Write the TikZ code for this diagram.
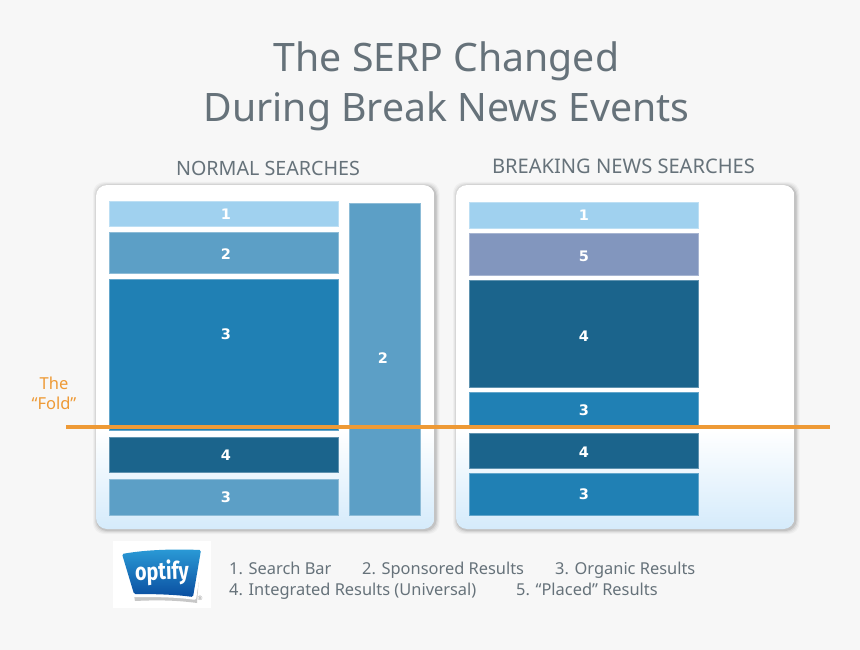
\documentclass[tikz,border=0pt]{standalone}
\usepackage{fontspec}
\setmainfont{Noto Sans}
\newfontfamily\numfont{DejaVu Sans}
\newfontfamily\logofont{Fira Sans}
\usetikzlibrary{calc}
\definecolor{bgc}{HTML}{F7F7F7}
\definecolor{txtc}{HTML}{66727A}
\definecolor{cA}{HTML}{A0D1EF}
\definecolor{cB}{HTML}{5C9FC6}
\definecolor{cC}{HTML}{2080B4}
\definecolor{cD}{HTML}{1B648C}
\definecolor{cE}{HTML}{8296BE}
\definecolor{foldc}{HTML}{EE9A36}
\definecolor{panelb}{HTML}{D5EBFB}
\definecolor{logot}{HTML}{2A9AD6}
\definecolor{logob}{HTML}{0A4EA0}
\tikzset{
  x=1pt,y=-1pt,
  blk/.style={draw=#1!70!white,line width=.5pt,fill=#1,inner sep=0pt},
  num/.style={text=white,inner sep=0pt,font=\fontsize{14.5}{15}\numfont\bfseries},
  head/.style={text=txtc,font=\fontsize{19.7}{22}\selectfont,inner sep=0pt},
  legend/.style={text=txtc,font=\fontsize{16.4}{20}\selectfont,inner sep=0pt,anchor=base west},
}
\newcommand{\panelbox}[2]{% x1,x2
  \foreach \s/\o in {4/.03,3/.04,2/.06,1/.09}{
    \fill[black,opacity=\o,rounded corners=11pt] (#1-\s+1,185-\s+1) rectangle (#2+\s+1,529+\s+1);}
  \begin{scope}
    \clip[rounded corners=11pt] (#1,185) rectangle (#2,529);
    \fill[white] (#1,185) rectangle (#2,431);
    \shade[top color=white,bottom color=panelb] (#1,430) rectangle (#2,529);
  \end{scope}}
\newcommand{\block}[9]{% name,color,x1,y1,x2,y2,label,tx,ty
  \node[blk=#2,minimum width=#5-#3-1,minimum height=#6-#4-1] (#1) at ({(#3+#5)/2-.25},{(#4+#6)/2-.25}) {};
  \node[num] (#1t) at (#8,#9) {#7};}
\begin{document}
\begin{tikzpicture}
\useasboundingbox (0,0) rectangle (860,650);
\fill[bgc] (0,0) rectangle (860,650);
\node[text=txtc,font=\fontsize{39.2}{50}\selectfont,align=center,inner sep=0pt] (title) at (446.5,86) {The SERP Changed\\During Break News Events};
\node[head] (hl) at (268,168.5) {NORMAL SEARCHES};
\node[head,font=\fontsize{20.1}{22}\selectfont] (hr) at (623.5,166.5) {BREAKING NEWS SEARCHES};
\panelbox{96}{434.5}
\panelbox{456}{794.5}
% left
\block{la}{cA}{109}{201}{339}{227}{1}{226}{214.5}
\block{lb}{cB}{109}{232}{339}{274}{2}{226}{254.5}
\block{lc}{cC}{109}{279}{339}{431}{3}{226}{334.5}
\block{ld}{cD}{109}{437}{339}{473}{4}{226}{455.5}
\block{le}{cB}{109}{479}{339}{516}{3}{226}{497.5}
\block{lf}{cB}{349}{203}{421}{516}{2}{383}{358.5}
% right
\block{ra}{cA}{469}{202}{699}{229}{1}{584}{215.5}
\block{rb}{cE}{469}{233}{699}{276}{5}{584}{256.5}
\block{rc}{cD}{469}{280}{699}{388}{4}{584}{336.5}
\block{rd}{cC}{469}{392}{699}{428}{3}{584}{410.5}
\block{re}{cD}{469}{433}{699}{469}{4}{584}{452.5}
\block{rf}{cC}{469}{473}{699}{516}{3}{584}{494.5}
% fold
\coordinate (fa) at (66,427);
\coordinate (fb) at (830,427);
\draw[foldc,line width=3.5pt] (fa) -- (fb);
\node[text=foldc,font=\fontsize{16.5}{20}\selectfont,align=center,inner sep=0pt] (fold) at (54,393) {The\\“Fold”};
% logo
\fill[white] (113,541) rectangle (211,608);
\fill[black!22] (127,556) -- (201,552) -- (197,603) .. controls (175,600) and (155,600) .. (135,601) -- cycle;
\fill[white,rounded corners=2pt] (119,552) .. controls (145,547) and (175,546) .. (204,547) -- (196,600) .. controls (175,597) and (155,597) .. (131,597) -- cycle;
\shade[top color=logot,bottom color=logob,rounded corners=1.5pt] (122,554) .. controls (147,549.5) and (175,549) .. (201,550) -- (193,597) .. controls (175,594.5) and (155,594) .. (134,594) -- cycle;
\node[text=white,font=\fontsize{23}{23}\logofont\bfseries,inner sep=0pt,rotate=2] (logo) at (162,572.5) {\scalebox{.86}[1.05]{optify}};
\node[text=black!40,font=\fontsize{6}{6}\selectfont,inner sep=0pt] (reg) at (200,598) {®};
% legend
\node[legend] (l1) at (229,574.5) {1. Search Bar};
\node[legend] (l2) at (362,574.5) {2. Sponsored Results};
\node[legend] (l3) at (555,574.5) {3. Organic Results};
\node[legend] (l4) at (229,595.5) {4. Integrated Results (Universal)};
\node[legend] (l5) at (516,595.5) {5. “Placed” Results};
\end{tikzpicture}
\end{document}
